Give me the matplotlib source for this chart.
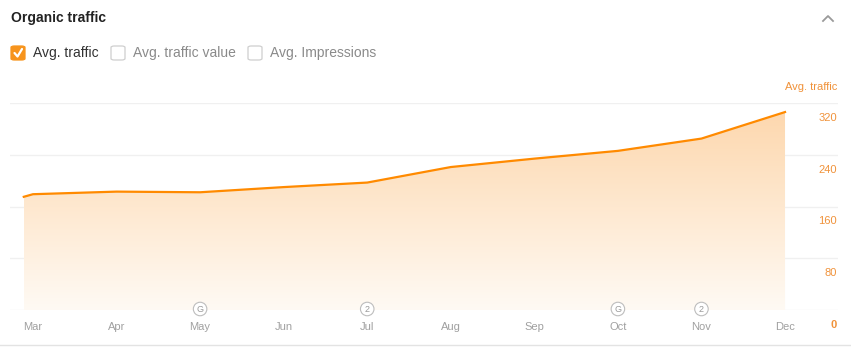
import numpy as np
import matplotlib; matplotlib.use("Agg")
import matplotlib.pyplot as plt
from matplotlib.patches import FancyBboxPatch
from matplotlib.lines import Line2D

plt.rcParams["font.family"] = ["Liberation Sans", "DejaVu Sans"]

# ---- data ----
months = ["Mar", "Apr", "May", "Jun", "Jul", "Aug", "Sep", "Oct", "Nov", "Dec"]
pos = [-0.11, 0, 1, 2, 3, 4, 5, 6, 7, 8, 9]          # month index of each point
traffic = [175, 179, 183, 182, 190, 197, 221, 234, 246, 265, 306]
yticks = [0, 80, 160, 240, 320]
event_pos = [2, 4, 7, 8]
event_txt = ["G", "2", "G", "2"]

ORANGE = "#ff8a00"; LBL = "#f0923a"; GRID = "#f0f0f0"
W, H = 851, 353
def px(x, y): return (x / W, 1 - y / H)

fig = plt.figure(figsize=(W / 100, H / 100), dpi=100)
fig.patch.set_facecolor("white")

# header
fig.text(*px(11, 18), "Organic traffic", fontsize=10, fontweight="bold", color="#222222", va="center")
fig.add_artist(Line2D([823 / W, 828 / W, 833 / W], [1 - 21 / H, 1 - 16 / H, 1 - 21 / H], color="#9a9a9a", lw=1.3))

# legend checkboxes
def box(x, checked):
    fc = "#f7941d" if checked else "white"; ec = "#f7941d" if checked else "#cfcfcf"
    fig.add_artist(FancyBboxPatch(px(x, 60), 14 / W, 14 / H, boxstyle="round,pad=0,rounding_size=0.004",
                                  fc=fc, ec=ec, lw=0.9, transform=fig.transFigure))
box(11, True); box(111, False); box(248, False)
fig.add_artist(Line2D([14.5 / W, 17.5 / W, 22 / W], [1 - 53 / H, 1 - 56.5 / H, 1 - 49 / H], color="white", lw=1.6,
                      solid_capstyle="round", solid_joinstyle="round"))
fig.text(*px(33, 53), "Avg. traffic", fontsize=10, color="#333333", va="center")
fig.text(*px(133, 53), "Avg. traffic value", fontsize=10, color="#8a8a8a", va="center")
fig.text(*px(270, 53), "Avg. Impressions", fontsize=10, color="#8a8a8a", va="center")

# chart axes: pixel 10..838 horizontally, 103..310 vertically
ax = fig.add_axes([10 / W, 1 - 310 / H, 828 / W, 207 / H])
ax.set_facecolor("none")
for s in ax.spines.values(): s.set_visible(False)
ax.set_xlim(-0.275, 9.634); ax.set_ylim(0, 320)

for v in yticks:
    ax.axhline(v, color=GRID, lw=1, zorder=0)

# gradient fill under the line
poly = ax.fill_between(pos, traffic, 0, color="none", lw=0)
grad = np.linspace(0, 1, 256).reshape(-1, 1)
cmap = matplotlib.colors.LinearSegmentedColormap.from_list("g", ["#fffaf4", "#fdd6ab"])
im = ax.imshow(grad, extent=[pos[0], pos[-1], 0, 320], origin="lower", aspect="auto", cmap=cmap, zorder=1)
im.set_clip_path(poly.get_paths()[0], transform=ax.transData)
ax.plot(pos, traffic, color=ORANGE, lw=1.6, zorder=3, solid_joinstyle="round", clip_on=False)

# month labels
ax.set_xticks(range(len(months)))
ax.set_xticklabels(months, fontsize=8, color="#a0a0a0")
ax.tick_params(axis="x", length=0, pad=9)
ax.set_yticks([])

# y labels on the right, drawn just below each gridline
for v in yticks:
    ax.annotate(str(v), xy=(1, v), xycoords=("axes fraction", "data"), xytext=(-1, -15),
                textcoords="offset pixels", ha="right", va="center", fontsize=8, color=LBL,
                fontweight="bold" if v == 0 else "normal")
ax.annotate("Avg. traffic", xy=(1, 320), xycoords=("axes fraction", "data"), xytext=(-1, 16),
            textcoords="offset pixels", ha="right", va="center", fontsize=8, color=LBL)

# event markers on the baseline
for p, t in zip(event_pos, event_txt):
    ax.annotate(t, xy=(p, 0), xytext=(0, 1), textcoords="offset pixels", ha="center", va="center",
                fontsize=6.5, color="#999999", annotation_clip=False, zorder=4,
                bbox=dict(boxstyle="circle,pad=0.25", fc="white", ec="#bdbdbd", lw=0.8))

# bottom separator
fig.add_artist(Line2D([0, 1], [1 - 345 / H] * 2, color="#e3e3e3", lw=1))

fig.savefig("out.png", dpi=100)
